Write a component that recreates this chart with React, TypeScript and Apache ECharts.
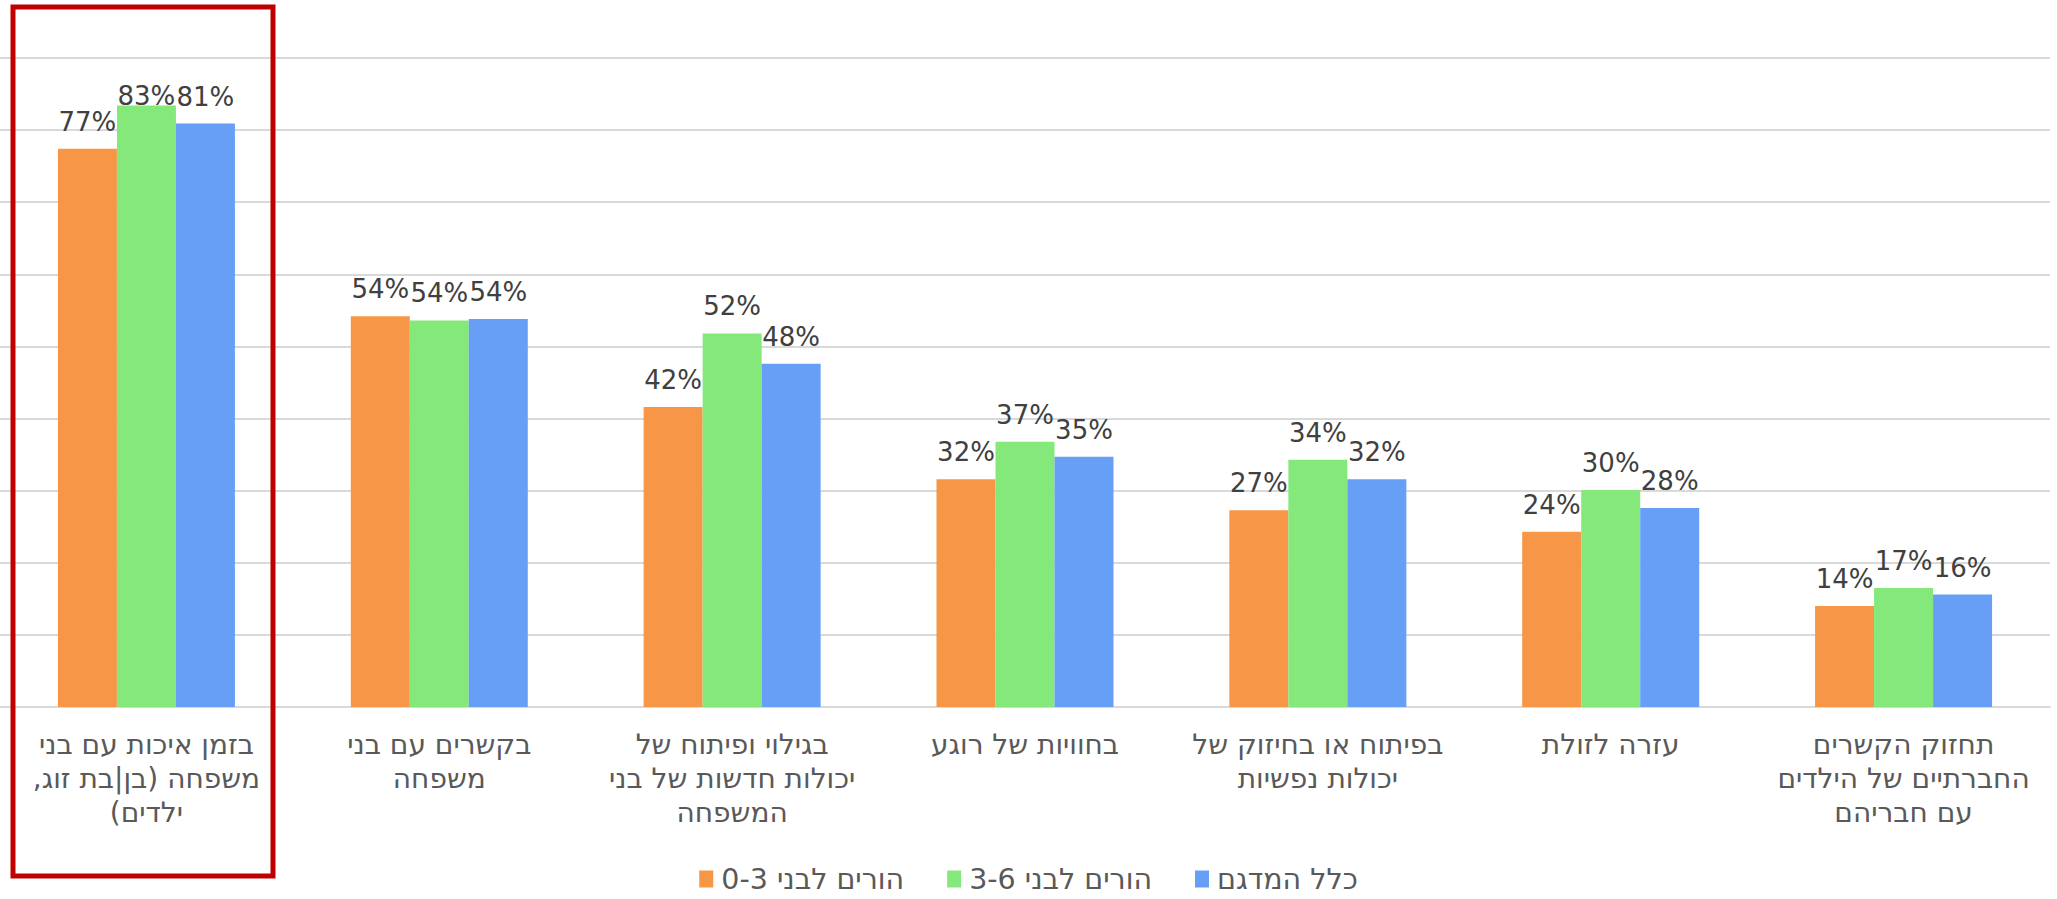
import React, { useEffect, useRef } from "react";
import * as echarts from "echarts";

const categories = [
  "בזמן איכות עם בני\nמשפחה (בן|בת זוג,\nילדים)",
  "בקשרים עם בני\nמשפחה",
  "בגילוי ופיתוח של\nיכולות חדשות של בני\nהמשפחה",
  "בחוויות של רוגע",
  "בפיתוח או בחיזוק של\nיכולות נפשיות",
  "עזרה לזולת",
  "תחזוק הקשרים\nהחברתיים של הילדים\nעם חבריהם",
];

const seriesNames = ["הורים לבני 0-3", "הורים לבני 3-6", "כלל המדגם"];
const parents03 = [77.4, 54.2, 41.6, 31.6, 27.3, 24.3, 14.0];
const parents36 = [83.4, 53.6, 51.8, 36.8, 34.3, 30.1, 16.5];
const allSample = [80.9, 53.8, 47.6, 34.7, 31.6, 27.6, 15.6];
const colors = ["#F79646", "#84E87B", "#669FF5"];

const yMin = 0;
const yMax = 90;
const yInterval = 10;

const FONT = "DejaVu Sans";
const rtl = (s: string) =>
  s
    .split("\n")
    .map((l) => "\u200F" + l + "\u200F")
    .join("\n");

export default function App() {
  const ref = useRef<HTMLDivElement>(null);
  useEffect(() => {
    if (!ref.current) return;
    const chart = echarts.init(ref.current, null, { renderer: "svg" });
    const values = [parents03, parents36, allSample];
    chart.setOption({
      animation: false,
      backgroundColor: "#ffffff",
      grid: {
        left: 0,
        right: 7,
        top: 58,
        bottom: 192,
        containLabel: false,
        outerBoundsMode: "none",
      },
      legend: {
        top: 864,
        left: "center",
        padding: 0,
        itemWidth: 14,
        itemHeight: 17,
        itemGap: 43,
        icon: "rect",
        textStyle: {
          fontFamily: FONT,
          fontSize: 28.5,
          lineHeight: 30,
          color: "#595959",
          padding: [0, 0, 0, 3],
        },
        formatter: (n: string) => rtl(n),
        data: seriesNames,
      },
      xAxis: {
        type: "category",
        data: categories,
        axisTick: { show: false },
        axisLine: { lineStyle: { color: "#D9D9D9", width: 2 } },
        axisLabel: {
          interval: 0,
          fontFamily: FONT,
          fontSize: 28,
          lineHeight: 34,
          margin: 20,
          color: "#595959",
          formatter: (v: string) => rtl(v),
        },
      },
      yAxis: {
        type: "value",
        min: yMin,
        max: yMax,
        interval: yInterval,
        axisLabel: { show: false },
        axisLine: { show: false },
        axisTick: { show: false },
        splitLine: { lineStyle: { color: "#D9D9D9", width: 2 } },
      },
      series: seriesNames.map((name, i) => ({
        name,
        type: "bar",
        // labels near the plot top are pushed down (as in the source chart)
        data: values[i].map((v) =>
          v > 82 ? { value: v, label: { distance: -3 } } : v
        ),
        barWidth: 59,
        barGap: "0%",
        itemStyle: { color: colors[i] },
        label: {
          show: true,
          position: "top",
          distance: 14,
          fontFamily: FONT,
          fontSize: 26,
          color: "#404040",
          formatter: (p: any) => Math.round(p.value) + "%",
        },
      })),
      graphic: [
        {
          type: "rect",
          shape: { x: 13, y: 7, width: 260, height: 869 },
          style: { fill: "none", stroke: "#C00000", lineWidth: 5 },
          z: 100,
        },
      ],
    });
    return () => chart.dispose();
  }, []);
  return (
    <div
      ref={ref}
      style={{ position: "fixed", left: 0, top: 0, width: 2057, height: 899 }}
    />
  );
}
